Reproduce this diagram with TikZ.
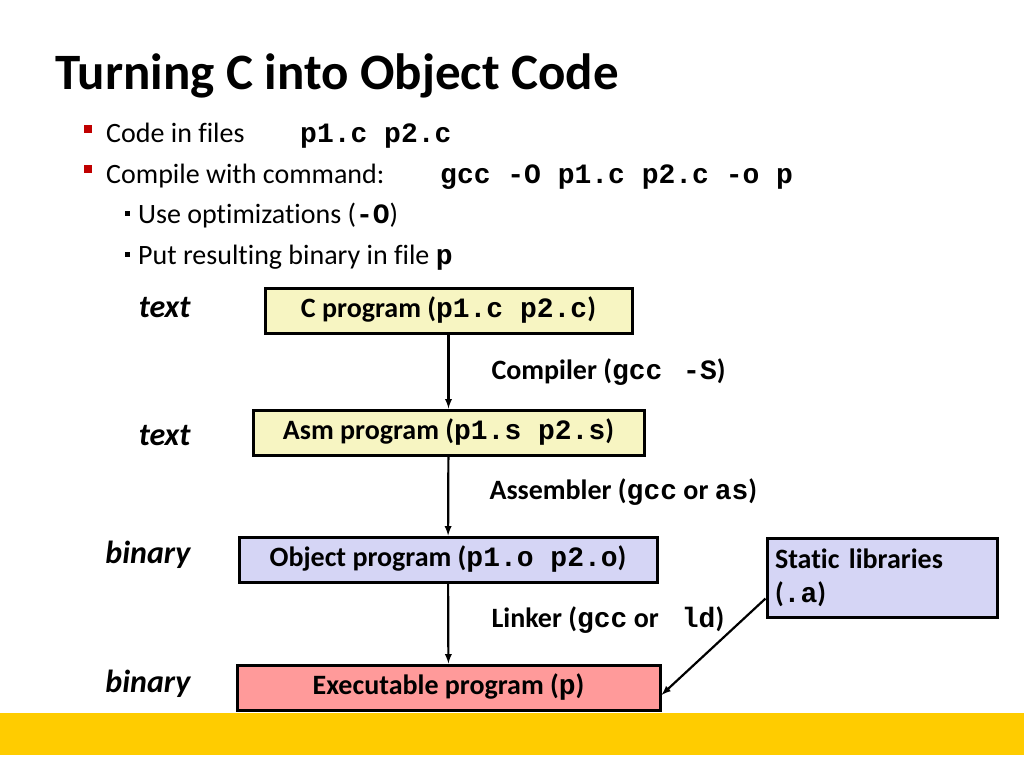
\documentclass[tikz,border=0pt]{standalone}
\usepackage{fontspec}
\setmainfont{Carlito}[Ligatures = NoCommon]
\setmonofont{Liberation Mono}
\usetikzlibrary{arrows}
\usetikzlibrary{positioning}
\definecolor{srcfill}{HTML}{F7F5C2}
\definecolor{objfill}{HTML}{D5D5F5}
\definecolor{exefill}{HTML}{FF9A9A}
\definecolor{barfill}{HTML}{FFCC00}
\definecolor{bulletred}{HTML}{C00000}
\newcommand{\src}[1]{\texttt{\bfseries #1}}
\newcommand{\bodysize}{\fontsize{28}{34}\selectfont}

\begin{document}
\begin{tikzpicture}[x = 1pt, y = -1pt,
	prog/.style = {draw, line width = 3pt, minimum height = 45pt, inner sep = 0pt, font = \bodysize\bfseries},
	kind/.style = {anchor = east, font = \fontsize{32}{36}\selectfont\bfseries\itshape},
	tool/.style = {anchor = west, font = \bodysize\bfseries},
	bul/.style = {anchor = base west, font = \bodysize},
	flow/.style = {-latex, line width = 2.2pt}]
	%\draw[help lines, step = 50] (0,0) grid (1024,768);
	\useasboundingbox (0, 0) rectangle (1024, 768);
	\fill[barfill] (0, 713) rectangle (1024, 755);

	% title and bullets
	\node[anchor = base west, inner sep = 0pt, font = \fontsize{51}{60}\selectfont\bfseries] (title) at (55, 89) {Turning C into Object Code};
	\fill[bulletred] (84, 125) rectangle (92, 133);
	\fill[bulletred] (84, 165) rectangle (92, 173);
	\node[bul, inner sep = 0pt] (b1) at (106, 142) {Code in files};
	\node[bul, inner sep = 0pt] (b1code) at (300, 142) {\src{p1.c p2.c}};
	\node[bul, inner sep = 0pt] (b2) at (106, 183) {Compile with command:};
	\node[bul, inner sep = 0pt] (b2code) at (440, 183) {\src{gcc -O p1.c p2.c -o p}};
	\fill (125, 211) rectangle (130, 216);
	\fill (125, 252) rectangle (130, 257);
	\node[bul, inner sep = 0pt] (s1) at (138, 223) {Use optimizations (\src{-O})};
	\node[bul, inner sep = 0pt] (s2) at (138, 264) {Put resulting binary in file \src{p}};

	% programs
	\node[prog, fill = srcfill, minimum width = 367pt] (cprog) at (448.5, 310.5) {C program (\src{p1.c p2.c})};
	\node[prog, fill = srcfill, minimum width = 391pt] (asm) at (448.5, 432.5) {Asm program (\src{p1.s p2.s})};
	\node[prog, fill = objfill, minimum width = 418pt] (obj) at (448, 559.5) {Object program (\src{p1.o p2.o})};
	\node[prog, fill = exefill, minimum width = 423pt] (exe) at (448.5, 687.5) {Executable program (\src{p})};
	\node[prog, fill = objfill, minimum width = 230pt, minimum height = 79pt, text width = 214pt, align = left] (lib) at (882, 578) {Static libraries\\(\src{.a})};

	\node[kind] (k1) at (194, 308) {text};
	\node[kind] (k2) at (194, 436) {text};
	\node[kind] (k3) at (194, 555) {binary};
	\node[kind] (k4) at (194, 684) {binary};

	\draw[flow] (cprog) -- (asm);
	\draw[flow] (asm) -- (obj);
	\draw[flow] (obj) -- (exe);
	\draw[flow] (lib.190) -- (exe.358);

	\node[tool] (cc) at (488, 372) {Compiler (\src{gcc}\hspace{4pt}\src{ -S})};
	\node[tool] (as) at (486, 492) {Assembler (\src{gcc} or \src{as})};
	\node[tool] (ld) at (488, 620) {Linker (\src{gcc} or \src{\ ld})};
\end{tikzpicture}
\end{document}
